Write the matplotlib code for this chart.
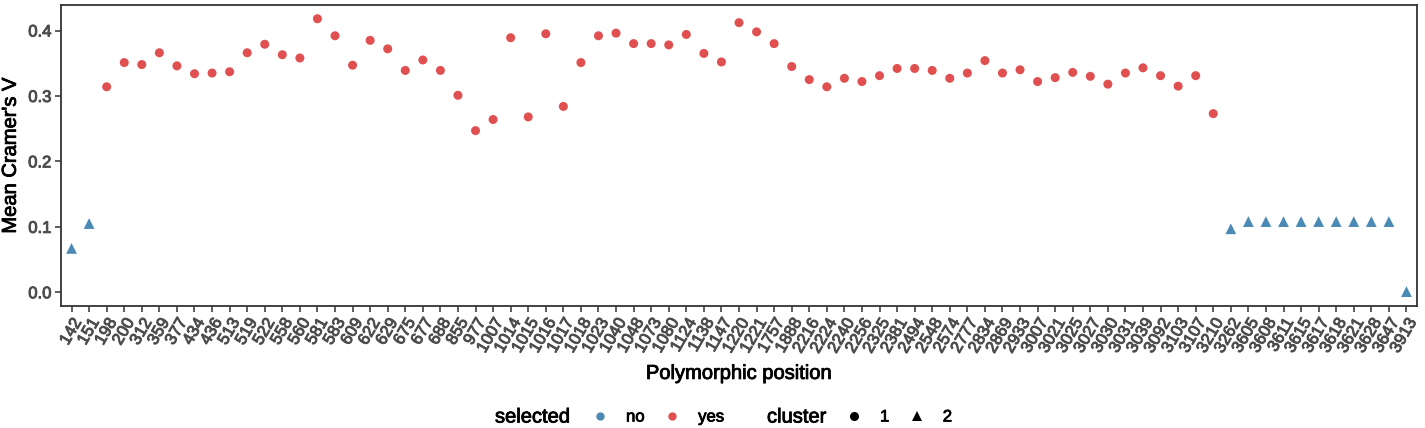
import matplotlib
matplotlib.use("Agg")
import matplotlib.pyplot as plt
import matplotlib.patheffects as pe
from matplotlib.lines import Line2D

plt.rcParams['font.family'] = ['Liberation Sans', 'DejaVu Sans']

# polymorphic positions (x categories)
positions = ["142", "151", "198", "200", "312", "359", "377", "434", "436", "513",
             "519", "522", "558", "560", "581", "583", "609", "622", "629", "675",
             "677", "688", "855", "977", "1007", "1014", "1015", "1016", "1017", "1018",
             "1023", "1040", "1048", "1073", "1080", "1124", "1138", "1147", "1220", "1221",
             "1757", "1888", "2216", "2224", "2240", "2256", "2325", "2381", "2494", "2548",
             "2574", "2777", "2834", "2869", "2933", "3007", "3021", "3025", "3027", "3030",
             "3031", "3039", "3092", "3103", "3107", "3210", "3262", "3605", "3608", "3611",
             "3615", "3617", "3618", "3621", "3628", "3647", "3913"]

# mean Cramer's V per position
cramers_v = [0.067, 0.105, 0.314, 0.351, 0.348, 0.366, 0.346, 0.334, 0.335, 0.337,
             0.366, 0.379, 0.363, 0.358, 0.418, 0.392, 0.347, 0.385, 0.372, 0.339,
             0.355, 0.339, 0.301, 0.247, 0.264, 0.389, 0.268, 0.395, 0.284, 0.351,
             0.392, 0.396, 0.380, 0.380, 0.378, 0.394, 0.365, 0.352, 0.412, 0.398,
             0.380, 0.345, 0.325, 0.314, 0.327, 0.322, 0.331, 0.342, 0.342, 0.339,
             0.327, 0.335, 0.354, 0.335, 0.340, 0.322, 0.328, 0.336, 0.330, 0.318,
             0.335, 0.343, 0.331, 0.315, 0.331, 0.273, 0.097, 0.108, 0.108, 0.108,
             0.108, 0.108, 0.108, 0.108, 0.108, 0.108, 0.001]

# selected = yes for cluster 1, no for cluster 2
cluster = ["2", "2"] + ["1"] * 64 + ["2"] * 11
selected = ["no" if c == "2" else "yes" for c in cluster]

sel_colors = {"no": "#4A8AB5", "yes": "#E05050"}
cl_markers = {"1": "o", "2": "^"}
cl_sizes = {"1": 42, "2": 60}

# slightly heavier text, like the original raster
heavy = [pe.withStroke(linewidth=0.7, foreground='#4D4D4D')]
heavy_k = [pe.withStroke(linewidth=0.6, foreground='black')]

fig = plt.figure(figsize=(14.25, 4.28), dpi=100)
ax = fig.add_axes([61 / 1425, 1 - 306 / 428, (1417 - 61) / 1425, 301 / 428])

xs = list(range(len(positions)))
for cl in ["1", "2"]:
    idx = [i for i in xs if cluster[i] == cl]
    ax.scatter([xs[i] for i in idx], [cramers_v[i] for i in idx],
               c=[sel_colors[selected[i]] for i in idx],
               marker=cl_markers[cl], s=cl_sizes[cl], linewidths=0, zorder=3)

ax.set_xlim(-0.6, len(positions) - 0.4)
ax.set_ylim(-0.021, 0.439)
ax.set_xticks(xs)
ax.set_xticklabels(positions, rotation=60, ha='right', rotation_mode='anchor')
ax.set_yticks([0.0, 0.1, 0.2, 0.3, 0.4])
ax.set_yticklabels(["0.0", "0.1", "0.2", "0.3", "0.4"])
ax.tick_params(axis='both', labelsize=12, labelcolor='#4D4D4D', color='#333333',
               length=4, width=1.1, pad=3)
for t in ax.get_xticklabels() + ax.get_yticklabels():
    t.set_path_effects(heavy)

for sp in ax.spines.values():
    sp.set_color('#333333')
    sp.set_linewidth(1.3)

ax.set_xlabel("Polymorphic position", fontsize=14.5, labelpad=6, path_effects=heavy_k)
ax.set_ylabel("Mean Cramer's V", fontsize=14.5, labelpad=6, path_effects=heavy_k)

# legends at the bottom, horizontal like ggplot
fig.text(495 / 1425, 1 - 417 / 428, "selected", fontsize=14.5, va='center', ha='left',
         path_effects=heavy_k)
fig.text(767 / 1425, 1 - 417 / 428, "cluster", fontsize=14.5, va='center', ha='left',
         path_effects=heavy_k)

h_sel = [Line2D([], [], ls='none', marker='o', ms=6, mew=0, color=sel_colors[k])
         for k in ["no", "yes"]]
h_cl = [Line2D([], [], ls='none', marker=cl_markers[k], ms=6.5, mew=0, color='black')
        for k in ["1", "2"]]

leg_kw = dict(ncol=2, frameon=False, fontsize=12, handlelength=1.0,
              handletextpad=1.06, columnspacing=1.15, borderpad=0,
              borderaxespad=0, loc='center left')
leg1 = fig.legend(h_sel, ["no", "yes"], bbox_to_anchor=(591.7 / 1425, 1 - 417 / 428), **leg_kw)
leg2 = fig.legend(h_cl, ["1", "2"], bbox_to_anchor=(845.7 / 1425, 1 - 417 / 428), **leg_kw)
for leg in (leg1, leg2):
    for t in leg.get_texts():
        t.set_path_effects(heavy_k)

fig.savefig("out.png", dpi=100)
